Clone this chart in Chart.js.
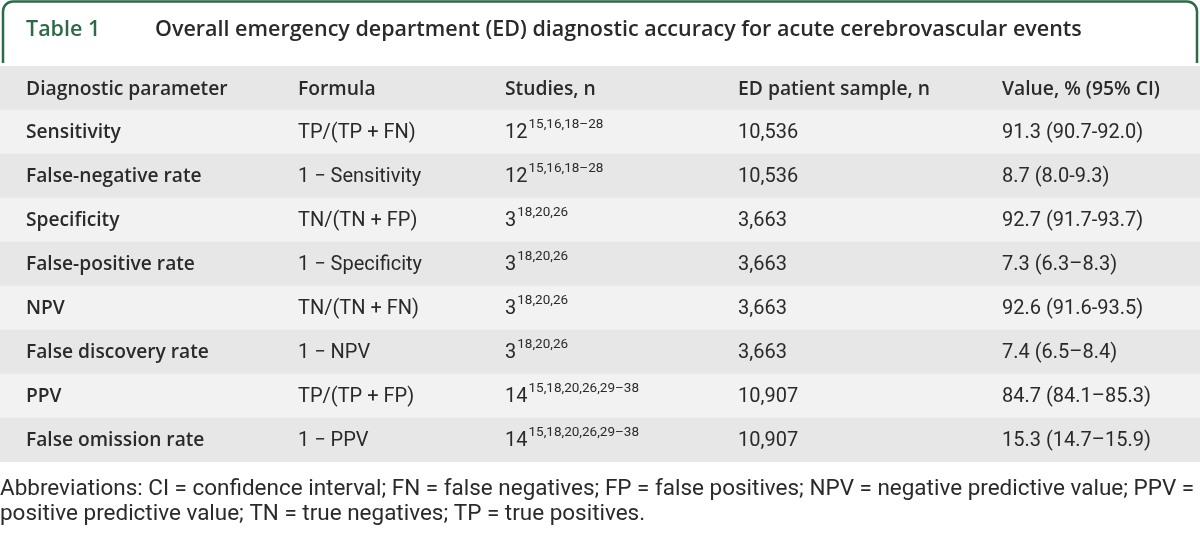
<!DOCTYPE html>
<html>
<head>
<meta charset="utf-8">
<title>Table 1</title>
<script src="https://cdn.jsdelivr.net/npm/chart.js@4.4.1/dist/chart.umd.min.js"></script>
<style>
  html, body { margin: 0; padding: 0; background: #fff; }
  #wrap { width: 1200px; height: 534px; }
</style>
</head>
<body>
<div id="wrap"><canvas id="tableChart" width="1200" height="534"></canvas></div>
<script>
/* ---- table content ---- */
const tableLabel = 'Table 1';
const tableTitle = 'Overall emergency department (ED) diagnostic accuracy for acute cerebrovascular events';
const headers = ['Diagnostic parameter', 'Formula', 'Studies, n', 'ED patient sample, n', 'Value, % (95% CI)'];
const params = ['Sensitivity', 'False-negative rate', 'Specificity', 'False-positive rate',
  'NPV', 'False discovery rate', 'PPV', 'False omission rate'];
const formulas = ['TP/(TP + FN)', '1 \u2212 Sensitivity', 'TN/(TN + FP)', '1 \u2212 Specificity',
  'TN/(TN + FN)', '1 \u2212 NPV', 'TP/(TP + FP)', '1 \u2212 PPV'];
const studyCounts = ['12', '12', '3', '3', '3', '3', '14', '14'];
const studyRefs = ['15,16,18\u201328', '15,16,18\u201328', '18,20,26', '18,20,26',
  '18,20,26', '18,20,26', '15,18,20,26,29\u201338', '15,18,20,26,29\u201338'];
const samples = ['10,536', '10,536', '3,663', '3,663', '3,663', '3,663', '10,907', '10,907'];
const values = ['91.3 (90.7-92.0)', '8.7 (8.0-9.3)', '92.7 (91.7-93.7)', '7.3 (6.3\u20138.3)',
  '92.6 (91.6-93.5)', '7.4 (6.5\u20138.4)', '84.7 (84.1\u201385.3)', '15.3 (14.7\u201315.9)'];
const footnote = [
  'Abbreviations: CI = confidence interval; FN = false negatives; FP = false positives; NPV = negative predictive value; PPV =',
  'positive predictive value; TN = true negatives; TP = true positives.'
];

const rowKeys = ['header'].concat(params);

const COLORS = {
  green: '#2c6a48',
  text: '#2a2a2a',
  headerBg: '#e6e7e6',
  rowLight: '#f2f2f2',
  rowDark: '#e6e7e6',
};

const COL_X = [26, 298, 505, 738, 1002];
const TITLE_FONT = '600 21.5px "Open Sans", sans-serif';
const HEAD_FONT = '600 19.3px "Open Sans", sans-serif';
const BOLD_FONT = '600 19.2px "Open Sans", sans-serif';
const BODY_FONT = '20px Roboto, sans-serif';
const SUP_FONT = '13.5px Roboto, sans-serif';

// row background colours: header, then alternating light / dark
const rowColors = rowKeys.map((k, i) => i === 0 ? COLORS.headerBg : (i % 2 === 1 ? COLORS.rowLight : COLORS.rowDark));

const tablePlugin = {
  id: 'tableText',
  afterDatasetsDraw(chart) {
    const { ctx } = chart;
    const yScale = chart.scales.y;
    ctx.save();
    ctx.textBaseline = 'middle';
    ctx.textAlign = 'left';

    // title tab
    const r = 10, l = 3, rt = 1197, top = 1.5, bot = 63;
    ctx.beginPath();
    ctx.moveTo(l, bot);
    ctx.lineTo(l, top + r);
    ctx.arcTo(l, top, l + r, top, r);
    ctx.lineTo(rt - r, top);
    ctx.arcTo(rt, top, rt, top + r, r);
    ctx.lineTo(rt, bot);
    ctx.lineWidth = 2.5;
    ctx.strokeStyle = COLORS.green;
    ctx.stroke();

    ctx.font = TITLE_FONT;
    ctx.fillStyle = COLORS.green;
    ctx.fillText(tableLabel, 26, 30);
    ctx.fillStyle = COLORS.text;
    ctx.fillText(tableTitle, 155, 30);

    // header row
    const hy = yScale.getPixelForValue(0) + 2;
    ctx.font = HEAD_FONT;
    headers.forEach((h, c) => ctx.fillText(h, COL_X[c], hy));

    // body rows
    params.forEach((p, i) => {
      const y = yScale.getPixelForValue(i + 1) + 1;
      ctx.font = BOLD_FONT;
      ctx.fillText(p, COL_X[0], y);
      ctx.font = BODY_FONT;
      ctx.fillText(formulas[i], COL_X[1], y);
      ctx.fillText(studyCounts[i], COL_X[2], y);
      const w = ctx.measureText(studyCounts[i]).width;
      ctx.fillText(samples[i], COL_X[3], y);
      ctx.fillText(values[i], COL_X[4], y);
      ctx.font = SUP_FONT;
      ctx.fillText(studyRefs[i], COL_X[2] + w + 1, y - 8);
    });

    // footnote, sized to span the page width like the original
    ctx.font = '20px Roboto, sans-serif';
    const fw = ctx.measureText(footnote[0]).width;
    const fs = 20 * 1194 / fw;
    ctx.font = fs.toFixed(2) + 'px Roboto, sans-serif';
    ctx.fillText(footnote[0], 0, 489);
    ctx.fillText(footnote[1], 0, 514);
    ctx.restore();
  }
};

new Chart(document.getElementById('tableChart'), {
  type: 'bar',
  data: {
    labels: rowKeys,
    datasets: [{
      data: rowKeys.map(() => 1),
      backgroundColor: rowColors,
      borderWidth: 0,
      barPercentage: 1,
      categoryPercentage: 1,
    }]
  },
  options: {
    indexAxis: 'y',
    responsive: false,
    animation: false,
    layout: { padding: { top: 66, bottom: 72, left: 0, right: 0 } },
    scales: {
      x: { display: false, min: 0, max: 1 },
      y: { display: false },
    },
    plugins: {
      legend: { display: false },
      tooltip: { enabled: false },
    }
  },
  plugins: [tablePlugin]
});
</script>
</body>
</html>
